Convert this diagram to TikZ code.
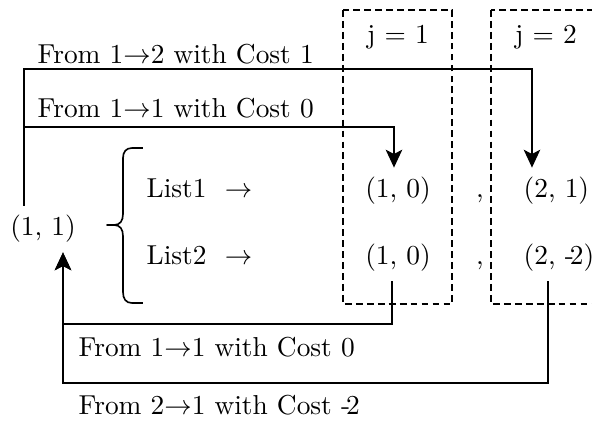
\documentclass[tikz,border=0pt]{standalone}
\usetikzlibrary{arrows.meta,calc}
\begin{document}
\begin{tikzpicture}[x=0.365pt,y=-0.365pt,
    conn/.style={line width=0.7pt,-{Stealth[length=6.5pt,width=6pt,inset=1.5pt]}},
    jbox/.style={line width=0.5pt,dash pattern=on 2.5pt off 1.5pt},
    brc/.style={line width=0.6pt,line join=round},
    cost/.style={anchor=base west},
    val/.style={text height=7.5pt,text depth=2.5pt}]
    \clip (0,0) rectangle (592,423);
    \draw[jbox] (343,10) rectangle (452,304);
    \draw[jbox] (491,10) rectangle (610,304);
    \node[val] (j1) at (398,37) {j = 1};
    \node[val] (j2) at (546,37) {j = 2};
    \node[cost] (c12) at (28,63) {From 1$\rightarrow$2 with Cost 1};
    \node[cost] (c11) at (28,118) {From 1$\rightarrow$1 with Cost 0};
    \node[cost] (d11) at (69,357) {From 1$\rightarrow$1 with Cost 0};
    \node[cost] (d21) at (69,415) {From 2$\rightarrow$1 with Cost -\kern-1.5pt2};
    \node[val] (p11) at (43,229) {(1, 1)};
    \node[val,anchor=west] (ls1) at (137,191) {List1~~$\rightarrow$};
    \node[val,anchor=west] (ls2) at (137,258) {List2~~$\rightarrow$};
    \node[val] (r10a) at (398,191) {(1, 0)};
    \node[val] (r10b) at (398,258) {(1, 0)};
    \node[val] (cm1) at (480,191) {,};
    \node[val] (cm2) at (480,258) {,};
    \node[val,anchor=west] (r21) at (514,191) {(2, 1)};
    \node[val,anchor=west] (r22) at (514,258) {(2, -\kern-1.5pt2)};
    \draw[brc] (143,148) -- (132,148) .. controls (126,148) and (123,152) .. (123,158) -- (123,214)
        .. controls (123,221) and (120,225) .. (114,225) -- (107,225) -- (114,225)
        .. controls (120,225) and (123,229) .. (123,236) -- (123,292)
        .. controls (123,299) and (126,303) .. (132,303) -- (143,303);
    \coordinate (l1) at (24,69);
    \coordinate (a12) at (532,69);
    \coordinate (a11) at (394,127);
    \coordinate (l2) at (63,324);
    \coordinate (b11) at (392,324);
    \coordinate (b21) at (548,383);
    \draw[conn] (p11.north -| l1) |- (a12) -- (a12 |- r21.north);
    \draw[conn] (l1 |- a11) -| (a11 |- r10a.north);
    \draw[conn] (b11 |- r10b.south) |- (l2) -- (l2 |- p11.south);
    \draw[conn] (b21 |- r22.south) |- (l2 |- b21) -- (l2 |- p11.south);
\end{tikzpicture}
\end{document}
